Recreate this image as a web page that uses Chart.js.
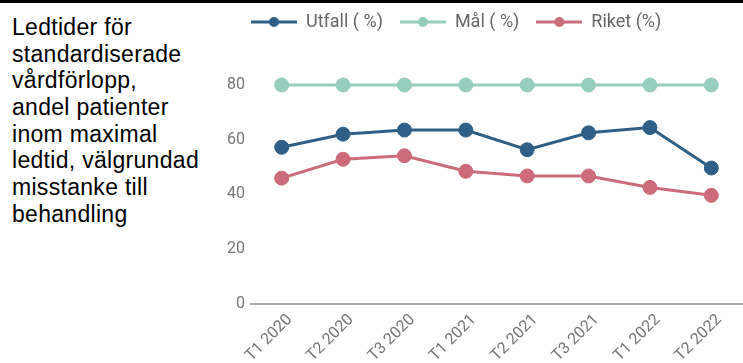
<!DOCTYPE html>
<html>
<head>
<meta charset="utf-8">
<script src="https://cdn.jsdelivr.net/npm/chart.js@4.4.0/dist/chart.umd.min.js"></script>
<style>
  html, body { margin: 0; padding: 0; background: #fff; width: 743px; height: 363px; overflow: hidden; position: relative; }
  #topline { position: absolute; left: 0; top: 0; width: 743px; height: 3px; background: #000; z-index: 2; }
  #title { position: absolute; left: 12px; top: 14px; font-family: "Liberation Sans", Arial, sans-serif; font-size: 23px; line-height: 26.67px; letter-spacing: 0.3px; color: #000; }
  #wrap { position: absolute; left: 0; top: 0; width: 750px; height: 363px; }
</style>
</head>
<body>
<div id="topline"></div>
<div id="title">Ledtider för<br>standardiserade<br>vårdförlopp,<br>andel patienter<br>inom maximal<br>ledtid, välgrundad<br>misstanke till<br>behandling</div>
<div id="wrap"><canvas id="chart" width="750" height="363"></canvas></div>
<script>
// data
const labels = ['T1 2020', 'T2 2020', 'T3 2020', 'T1 2021', 'T2 2021', 'T3 2021', 'T1 2022', 'T2 2022'];
const utfall = [57.2, 62.0, 63.5, 63.5, 56.3, 62.5, 64.4, 49.6];
const mal = [80, 80, 80, 80, 80, 80, 80, 80];
const riket = [45.9, 52.8, 54.1, 48.4, 46.7, 46.7, 42.5, 39.6];
const seriesNames = ['Utfall ( %)', 'Mål ( %)', 'Riket (%)'];
const seriesColors = ['#2e6087', '#96cebe', '#cc6c7a'];
const yMin = 0, yMax = 80, yStep = 20;

// legend mark: short line with a dot
function legendMark(color) {
  const c = document.createElement('canvas');
  c.width = 46; c.height = 12;
  const g = c.getContext('2d');
  g.strokeStyle = color; g.lineWidth = 3;
  g.beginPath(); g.moveTo(0, 6); g.lineTo(46, 6); g.stroke();
  g.fillStyle = color;
  g.beginPath(); g.arc(23, 6, 5, 0, Math.PI * 2); g.fill();
  return c;
}
const marks = seriesColors.map(legendMark);

// legend: more room below it, and start it above the plot
const legendSpace = {
  id: 'legendSpace',
  beforeInit(chart) {
    const fit = chart.legend.fit;
    chart.legend.fit = function () { fit.call(this); this.height = 89; };
  },
  afterLayout(chart) {
    chart.legend.left = 234;
  }
};

function series(i, data) {
  return {
    label: seriesNames[i],
    data: data,
    borderColor: seriesColors[i],
    backgroundColor: seriesColors[i],
    borderWidth: 3,
    pointRadius: 7,
    pointHoverRadius: 7,
    pointBorderWidth: 1,
    tension: 0,
    clip: false
  };
}

new Chart('chart', {
  type: 'line',
  data: {
    labels: labels,
    datasets: [series(0, utfall), series(1, mal), series(2, riket)]
  },
  options: {
    responsive: false,
    animation: false,
    layout: { padding: { left: 211, top: -4, right: 0, bottom: 0 } },
    plugins: {
      tooltip: { enabled: false },
      legend: {
        position: 'top',
        align: 'start',
        labels: {
          usePointStyle: true,
          pointStyleWidth: 46,
          padding: 17,
          color: '#666',
          font: { family: 'Roboto', size: 18 },
          generateLabels(chart) {
            return Chart.defaults.plugins.legend.labels.generateLabels(chart)
              .map((item, i) => Object.assign(item, { pointStyle: marks[i] }));
          }
        }
      }
    },
    scales: {
      x: {
        offset: true,
        grid: { display: false, drawTicks: false },
        border: { display: true, color: '#aaaaaa', width: 2 },
        ticks: {
          autoSkip: false,
          minRotation: 45,
          maxRotation: 45,
          padding: 7,
          labelOffset: 8,
          color: '#757575',
          font: { family: 'Roboto', size: 16 }
        },
        afterFit(scale) { scale.height = 59.5; }
      },
      y: {
        min: yMin,
        max: yMax,
        grid: { display: false, drawTicks: false },
        border: { display: false },
        ticks: {
          stepSize: yStep,
          padding: 6,
          color: '#757575',
          font: { family: 'Roboto', size: 16 }
        },
        afterFit(scale) { scale.width = 40; }
      }
    }
  },
  plugins: [legendSpace]
});
</script>
</body>
</html>
